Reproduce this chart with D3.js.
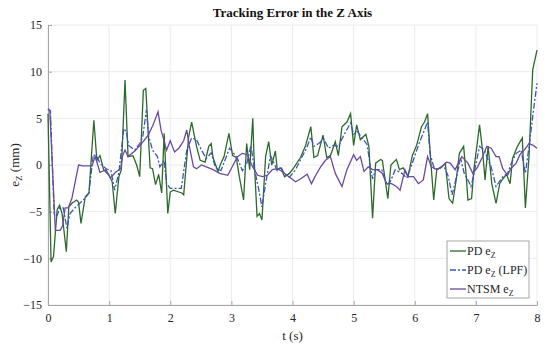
<!DOCTYPE html>
<html>
<head>
<meta charset="utf-8">
<script src="https://cdn.jsdelivr.net/npm/d3@7"></script>
<style>
  body { margin: 0; background: #fff; }
  text { font-family: "Liberation Serif", "Times New Roman", serif; }
</style>
</head>
<body>
<div id="chart"></div>
<script>
// PD e_Z (raw)
const tPD = [0, 0.05, 0.09, 0.15, 0.19, 0.23, 0.3, 0.34, 0.39, 0.47, 0.5, 0.54, 0.61, 0.67, 0.75, 0.8, 0.85, 0.91, 1.0, 1.05, 1.1, 1.16, 1.2, 1.26, 1.31, 1.39, 1.45, 1.5, 1.56, 1.6, 1.67, 1.71, 1.76, 1.81, 1.86, 1.9, 1.96, 2.0, 2.05, 2.19, 2.22, 2.3, 2.35, 2.43, 2.49, 2.57, 2.63, 2.67, 2.7, 2.78, 2.83, 2.88, 2.96, 3.02, 3.08, 3.13, 3.2, 3.25, 3.3, 3.35, 3.37, 3.42, 3.46, 3.5, 3.56, 3.61, 3.66, 3.72, 3.75, 3.81, 3.87, 3.95, 4.02, 4.13, 4.21, 4.3, 4.35, 4.41, 4.5, 4.56, 4.62, 4.7, 4.75, 4.81, 4.89, 4.95, 5.0, 5.05, 5.11, 5.2, 5.25, 5.31, 5.36, 5.44, 5.47, 5.56, 5.61, 5.7, 5.75, 5.81, 5.89, 5.96, 6.03, 6.11, 6.16, 6.21, 6.25, 6.31, 6.36, 6.44, 6.5, 6.56, 6.62, 6.68, 6.73, 6.8, 6.84, 6.87, 6.93, 6.97, 7.02, 7.06, 7.11, 7.15, 7.2, 7.26, 7.33, 7.39, 7.44, 7.5, 7.56, 7.6, 7.68, 7.76, 7.81, 7.87, 7.93, 8.0];
const ePD = [5.5, -10.4, -9.8, -4.8, -4.3, -5.2, -9.3, -4.5, -4.1, -3.75, -4.0, -6.25, -3.4, -3.0, 4.8, 0.5, 1.0, -0.5, -1.1, -1.8, -5.2, -1.25, -0.5, 9.1, 0.9, 1.0, 0.0, -1.25, 8.0, 8.2, -0.3, -0.4, -2.1, -1.0, -3.0, 3.4, -5.2, -2.9, -2.7, -3.0, -3.2, 3.0, 4.6, 2.0, 0.5, 0.3, 2.0, 2.3, 0.8, -0.7, 0.2, 0.9, 3.4, 1.0, 0.8, -1.25, -3.75, 2.3, -0.5, 5.0, 1.0, -5.5, -5.2, -5.9, 0.9, 2.5, 0.0, 1.5, -0.5, -0.3, -1.25, -0.9, -0.3, 0.8, 2.0, 4.1, 0.8, 1.0, 3.2, 0.8, 1.0, 2.5, 1.0, 4.1, 4.6, 5.5, 2.1, 4.3, 2.7, 3.3, 2.0, -5.7, 0.2, 0.6, 0.5, -3.6, 0.0, 0.6, -0.5, -0.3, -1.25, 1.0, 2.1, 4.1, 4.6, 5.5, 1.5, -3.75, -0.5, -0.2, 0.2, -3.6, -4.1, -1.5, 1.25, 2.0, -1.0, -3.75, -3.6, -0.3, 2.2, 4.3, 1.5, -1.6, 2.0, -2.0, -4.1, -2.0, -1.5, -1.0, -2.0, 0.7, 2.0, 2.9, -4.6, 1.0, 10.2, 12.3];

// PD e_Z (LPF)
const tLPF = [0, 0.04, 0.1, 0.15, 0.19, 0.25, 0.31, 0.36, 0.44, 0.52, 0.6, 0.67, 0.74, 0.8, 0.85, 0.95, 1.03, 1.09, 1.16, 1.24, 1.28, 1.32, 1.42, 1.5, 1.55, 1.61, 1.65, 1.71, 1.79, 1.83, 1.9, 1.94, 2.0, 2.18, 2.27, 2.35, 2.43, 2.51, 2.59, 2.67, 2.74, 2.83, 2.97, 3.02, 3.1, 3.18, 3.25, 3.32, 3.37, 3.45, 3.5, 3.56, 3.64, 3.69, 3.75, 3.81, 3.87, 3.95, 4.05, 4.15, 4.23, 4.3, 4.35, 4.43, 4.51, 4.59, 4.67, 4.75, 4.84, 4.95, 5.0, 5.06, 5.14, 5.22, 5.27, 5.31, 5.36, 5.46, 5.54, 5.6, 5.68, 5.79, 5.87, 5.96, 6.07, 6.15, 6.21, 6.25, 6.31, 6.39, 6.47, 6.55, 6.61, 6.67, 6.75, 6.81, 6.87, 6.92, 6.97, 7.06, 7.14, 7.2, 7.25, 7.33, 7.44, 7.52, 7.58, 7.66, 7.74, 7.81, 7.87, 7.95, 8.0];
const eLPF = [6.0, 5.8, -5.2, -5.4, -4.6, -4.6, -6.8, -5.2, -4.6, -4.1, -3.6, -3.0, 1.1, 0.9, 0.2, -0.4, -0.6, -2.7, -0.8, 3.9, 3.6, 2.1, 1.6, 2.3, 3.0, 5.9, 3.0, 1.6, 0.9, -0.2, 0.5, -2.0, -2.5, -2.5, 1.6, 2.9, 2.7, 1.6, 0.7, 1.3, -0.3, -0.6, 1.8, 1.4, 0.7, -0.6, 0.1, 2.1, -0.2, -2.7, -4.5, -2.0, 1.0, 0.3, -0.6, -0.2, -1.0, -1.3, -0.5, 0.8, 1.8, 3.0, 2.0, 2.3, 2.8, 1.8, 2.1, 2.0, 3.2, 4.5, 3.3, 3.6, 2.9, 2.2, 0.0, -1.5, -0.5, -0.5, -2.1, -1.8, -0.5, -0.9, -1.4, 0.2, 2.3, 3.6, 4.6, 1.25, -0.2, -0.5, 0.0, -1.25, -3.2, -1.6, 0.7, -0.9, -1.6, -2.3, -0.9, 2.0, 1.6, 0.5, -0.2, -2.3, -1.25, -0.9, 0.2, 1.25, 1.6, -0.9, 2.0, 6.25, 8.75];

// NTSM e_Z
const tNTSM = [0, 0.03, 0.12, 0.2, 0.24, 0.28, 0.33, 0.39, 0.5, 0.57, 0.72, 0.77, 0.8, 0.85, 0.95, 1.02, 1.1, 1.19, 1.22, 1.26, 1.31, 1.42, 1.53, 1.64, 1.72, 1.8, 1.85, 1.89, 1.94, 2.0, 2.07, 2.14, 2.22, 2.27, 2.31, 2.38, 2.43, 2.51, 2.59, 2.7, 2.81, 2.94, 3.02, 3.1, 3.18, 3.26, 3.34, 3.43, 3.51, 3.59, 3.67, 3.75, 3.83, 3.91, 4.05, 4.13, 4.24, 4.31, 4.38, 4.46, 4.54, 4.62, 4.7, 4.81, 4.89, 5.0, 5.05, 5.11, 5.17, 5.24, 5.31, 5.39, 5.47, 5.54, 5.62, 5.7, 5.76, 5.84, 5.89, 5.98, 6.06, 6.14, 6.21, 6.27, 6.36, 6.44, 6.52, 6.58, 6.66, 6.77, 6.87, 6.95, 7.03, 7.11, 7.18, 7.25, 7.33, 7.38, 7.44, 7.52, 7.57, 7.66, 7.72, 7.79, 7.87, 7.94, 8.0];
const eNTSM = [6.0, 5.8, -7.0, -7.0, -6.5, -4.6, -4.6, -3.6, 0.0, -0.1, -0.1, 0.9, 0.3, -0.8, -0.5, -1.4, -0.8, -0.4, 1.0, 1.6, 0.9, 1.5, 2.3, 3.2, 4.3, 5.7, 3.7, 2.8, 1.6, 2.6, 1.4, 1.8, 2.6, 3.75, 2.1, -0.2, -0.4, 0.0, -0.2, -0.5, -0.9, -1.1, -0.1, 0.9, 1.25, 1.1, -0.1, -1.1, -1.25, -1.1, -0.5, -0.4, -0.7, -1.1, -1.8, -1.5, -1.0, -2.0, -1.1, -0.2, 0.5, 0.9, -0.9, -2.3, -0.5, 1.1, 0.5, 0.9, -0.7, -0.2, -0.5, -0.5, -0.9, -2.0, -2.0, -2.3, -2.7, -0.5, -1.25, -1.25, -2.0, -1.6, 0.9, -0.2, -0.5, -0.2, 0.3, 0.2, -0.5, 0.9, 0.2, -0.9, -0.2, 0.9, 2.0, 1.8, 0.9, 0.9, -0.4, -1.1, -0.4, 0.2, 1.1, 1.6, 2.3, 2.1, 1.8];

const xTicks = [0, 1, 2, 3, 4, 5, 6, 7, 8];
const yTicks = [-15, -10, -5, 0, 5, 10, 15];

const width = 550, height = 347;
const margin = { top: 25, right: 13, bottom: 42, left: 48 };

const svg = d3.select("#chart")
  .append("svg")
  .attr("width", width)
  .attr("height", height);

const x = d3.scaleLinear().domain([0, 8]).range([margin.left, width - margin.right]);
const y = d3.scaleLinear().domain([-15, 15]).range([height - margin.bottom, margin.top]);

// grid
svg.append("g")
  .selectAll("line.gx")
  .data(xTicks)
  .enter()
  .append("line")
  .attr("x1", d => x(d)).attr("x2", d => x(d))
  .attr("y1", y(15)).attr("y2", y(-15))
  .attr("stroke", "#ebebeb");

svg.append("g")
  .selectAll("line.gy")
  .data(yTicks)
  .enter()
  .append("line")
  .attr("x1", x(0)).attr("x2", x(8))
  .attr("y1", d => y(d)).attr("y2", d => y(d))
  .attr("stroke", "#ebebeb");

const fmt = d => d < 0 ? "\u2212" + Math.abs(d) : String(d);

// axes
const xAxis = svg.append("g")
  .attr("transform", `translate(0,${y(-15)})`)
  .call(d3.axisBottom(x).tickValues(xTicks).tickFormat(fmt).tickSizeInner(-4).tickSizeOuter(0).tickPadding(8));
const yAxis = svg.append("g")
  .attr("transform", `translate(${x(0)},0)`)
  .call(d3.axisLeft(y).tickValues(yTicks).tickFormat(fmt).tickSizeInner(-4).tickSizeOuter(0).tickPadding(6));

[xAxis, yAxis].forEach(a => {
  a.select(".domain").attr("stroke", "#a6a6a6");
  a.selectAll(".tick line").attr("stroke", "#a6a6a6");
  a.selectAll(".tick text").attr("fill", "#262626").style("font-size", "12px")
    .style("font-family", "'Liberation Serif', serif");
});

// lines
const line = d3.line().x(d => x(d[0])).y(d => y(d[1]));

svg.append("path")
  .datum(d3.zip(tPD, ePD))
  .attr("d", line)
  .attr("fill", "none")
  .attr("stroke", "#2b6a2b")
  .attr("stroke-width", 1.3);

svg.append("path")
  .datum(d3.zip(tLPF, eLPF))
  .attr("d", line)
  .attr("fill", "none")
  .attr("stroke", "#3d55b8")
  .attr("stroke-width", 1.3)
  .attr("stroke-dasharray", "6,2,2,2");

svg.append("path")
  .datum(d3.zip(tNTSM, eNTSM))
  .attr("d", line)
  .attr("fill", "none")
  .attr("stroke", "#6a4a9e")
  .attr("stroke-width", 1.3);

// title
svg.append("text")
  .attr("x", (x(0) + x(8)) / 2)
  .attr("y", 17)
  .attr("text-anchor", "middle")
  .style("font-size", "13px")
  .style("font-weight", "bold")
  .attr("fill", "#111")
  .text("Tracking Error in the Z Axis");

// axis labels
svg.append("text")
  .attr("x", (x(0) + x(8)) / 2)
  .attr("y", 340)
  .attr("text-anchor", "middle")
  .style("font-size", "13px")
  .attr("fill", "#262626")
  .text("t (s)");

const yl = svg.append("text")
  .attr("transform", `translate(19,${y(0)}) rotate(-90)`)
  .attr("text-anchor", "middle")
  .style("font-size", "13px")
  .attr("fill", "#262626");
yl.append("tspan").text("e");
yl.append("tspan").attr("dy", 3).style("font-size", "9px").text("Z");
yl.append("tspan").attr("dy", -3).text(" (mm)");

// legend
const legendItems = [
  { name: "PD e", suffix: "", color: "#2b6a2b", dash: null },
  { name: "PD e", suffix: " (LPF)", color: "#3d55b8", dash: "6,2,2,2" },
  { name: "NTSM e", suffix: "", color: "#6a4a9e", dash: null }
];

const lg = svg.append("g");
lg.append("rect")
  .attr("x", 447).attr("y", 241)
  .attr("width", 82).attr("height", 57)
  .attr("fill", "#fff")
  .attr("stroke", "#a6a6a6");

legendItems.forEach((d, i) => {
  const ry = 251 + i * 19;
  lg.append("line")
    .attr("x1", 450).attr("x2", 466)
    .attr("y1", ry).attr("y2", ry)
    .attr("stroke", d.color)
    .attr("stroke-width", 1.3)
    .attr("stroke-dasharray", d.dash);
  const t = lg.append("text")
    .attr("x", 467).attr("y", ry + 4)
    .style("font-size", "12px")
    .attr("fill", "#262626");
  t.append("tspan").text(d.name);
  t.append("tspan").attr("dy", 3).style("font-size", "8px").text("Z");
  t.append("tspan").attr("dy", -3).text(d.suffix);
});
</script>
</body>
</html>
